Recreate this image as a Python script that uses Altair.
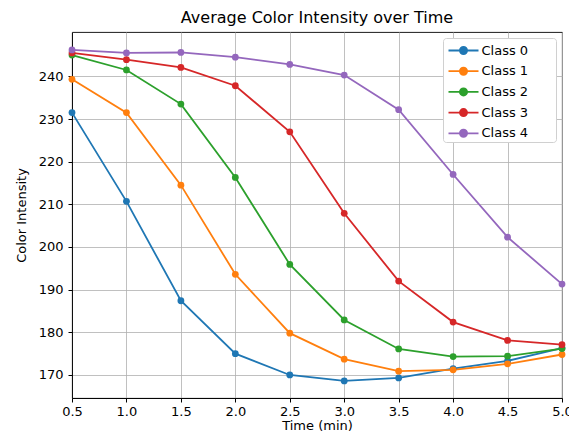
import altair as alt
import pandas as pd

times = [0.5, 1.0, 1.5, 2.0, 2.5, 3.0, 3.5, 4.0, 4.5, 5.0]
class_names = ["Class 0", "Class 1", "Class 2", "Class 3", "Class 4"]
class0 = [231.5, 210.7, 187.4, 175.0, 170.0, 168.6, 169.3, 171.5, 173.3, 176.3]
class1 = [239.3, 231.5, 214.5, 193.6, 179.8, 173.7, 170.9, 171.2, 172.6, 174.8]
class2 = [245.0, 241.5, 233.5, 216.3, 195.9, 182.9, 176.1, 174.3, 174.4, 176.2]
class3 = [245.5, 243.9, 242.1, 237.8, 227.0, 207.9, 192.0, 182.4, 178.1, 177.1]
class4 = [246.2, 245.5, 245.6, 244.5, 242.8, 240.3, 232.2, 217.0, 202.3, 191.3]
colors = ["#1f77b4", "#ff7f0e", "#2ca02c", "#d62728", "#9467bd"]
x_ticks = [0.5, 1.0, 1.5, 2.0, 2.5, 3.0, 3.5, 4.0, 4.5, 5.0]
y_ticks = [170, 180, 190, 200, 210, 220, 230, 240]

series = [class0, class1, class2, class3, class4]
rows = []
for name, vals in zip(class_names, series):
    for t, v in zip(times, vals):
        rows.append({"Time": t, "Intensity": v, "Class": name})
df = pd.DataFrame(rows)

font = "DejaVu Sans"
x = alt.X("Time:Q", title="Time (min)",
          scale=alt.Scale(domain=[0.5, 5.0], nice=False, zero=False),
          axis=alt.Axis(values=x_ticks, format=".1f", labelFlush=False,
                        labelPadding=3, titlePadding=1))
y = alt.Y("Intensity:Q", title="Color Intensity",
          scale=alt.Scale(domain=[164.6, 250.4], nice=False, zero=False),
          axis=alt.Axis(values=y_ticks, labelPadding=5, titlePadding=10))
# line + dot handle; trailing move-to widens the legend box like the reference
symbol_path = ("M-0.7,0L2.3,0M0.44,0A0.36,0.36,0,1,0,1.16,0"
               "A0.36,0.36,0,1,0,0.44,0M9.5,0")
color = alt.Color("Class:N", scale=alt.Scale(domain=class_names, range=colors),
                  legend=alt.Legend(title=None, orient="top-right", offset=6,
                                    symbolType=symbol_path,
                                    symbolSize=400, symbolStrokeWidth=1.8,
                                    labelFontSize=13, labelFont=font, labelOffset=15,
                                    rowPadding=1.7, padding=1.5,
                                    strokeColor="#d0d0d0", fillColor="white",
                                    cornerRadius=3))

lines = alt.Chart(df).mark_line(strokeWidth=1.8).encode(x=x, y=y, color=color)
points = alt.Chart(df).mark_circle(size=46, opacity=1).encode(
    x=x, y=y,
    color=alt.Color("Class:N", scale=alt.Scale(domain=class_names, range=colors), legend=None))

chart = (lines + points).properties(
    width=490, height=366,
    title=alt.TitleParams("Average Color Intensity over Time", fontSize=16, font=font,
                          fontWeight="normal", offset=6),
    autosize=alt.AutoSizeParams(type="none"),
    padding={"left": 64, "top": 24, "right": 7, "bottom": 35},
).configure_axis(
    labelFont=font, titleFont=font, labelFontSize=13, titleFontSize=13,
    titleFontWeight="normal", labelColor="black", titleColor="black",
    domainColor="black", tickColor="black", tickSize=4, domainWidth=0.9,
    gridColor="#b0b0b0", gridWidth=0.8,
).configure_view(
    stroke="black", strokeWidth=0.9
)

chart.save("out.html", embed_options={"renderer": "svg", "actions": False})
